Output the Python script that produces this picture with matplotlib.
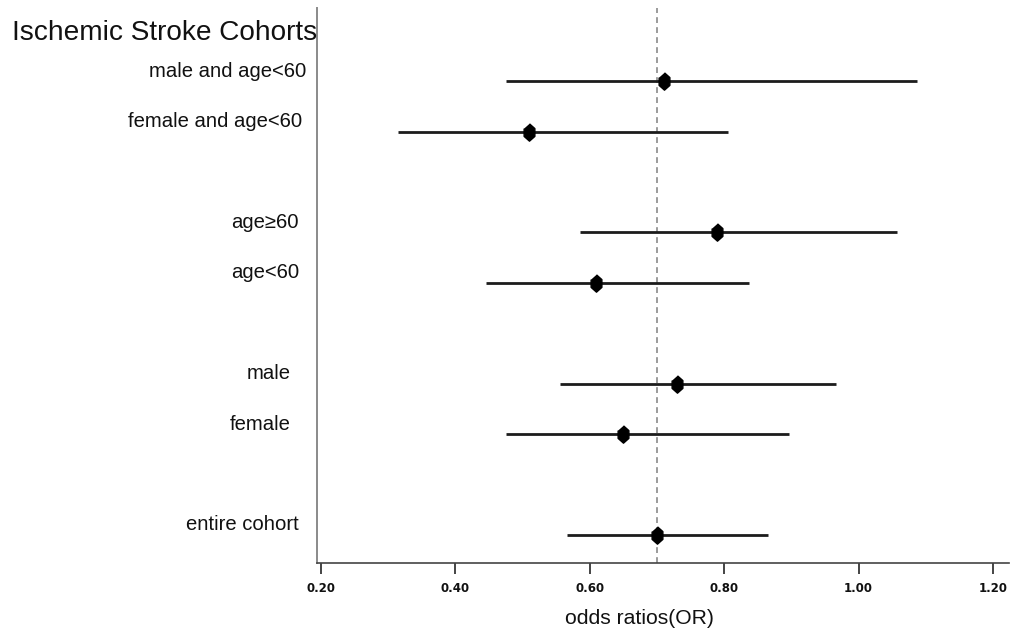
import matplotlib
matplotlib.use("Agg")
import matplotlib.pyplot as plt

# ---- data ----
cohorts = ["male and age<60", "female and age<60", "age\u226560", "age<60",
           "male", "female", "entire cohort"]
odds_ratio = [0.71, 0.51, 0.79, 0.61, 0.73, 0.65, 0.70]
ci_low = [0.475, 0.315, 0.586, 0.446, 0.556, 0.475, 0.566]
ci_high = [1.087, 0.806, 1.058, 0.837, 0.967, 0.897, 0.865]
ref_line = 0.70
xticks = [0.20, 0.40, 0.60, 0.80, 1.00, 1.20]
xtick_labels = ["0.20", "0.40", "0.60", "0.80", "1.00", "1.20"]
title = "Ischemic Stroke Cohorts"
xlabel = "odds ratios(OR)"

# ---- layout ----
W, H = 1010, 637
row_pos = [9, 8, 6, 5, 3, 2, 0]          # vertical slots (groups separated by gaps)
label_right_px = [306, 302, 299, 299, 291, 291, 299]

fig = plt.figure(figsize=(W / 100, H / 100), dpi=100)
ax = fig.add_axes([317 / W, 1 - 563 / H, (1009 - 317) / W, (563 - 8) / H])
ax.set_xlim(0.194, 1.224)
ax.set_ylim(-0.554, 10.45)

hexv = [(0, 1), (0.62, 0.45), (0.62, -0.45), (0, -1), (-0.62, -0.45), (-0.62, 0.45)]

ax.axvline(ref_line, color="#8a8a8a", lw=1.2, ls=(0, (3.5, 2.5)), zorder=1)

for y, m, lo, hi in zip(row_pos, odds_ratio, ci_low, ci_high):
    ax.hlines(y, lo, hi, color="#1c1c1c", lw=2.0, zorder=2)
    ax.plot([m], [y], marker=hexv, markersize=12.5, color="black",
            markeredgecolor="black", ls="none", zorder=3)

for name, y, rpx in zip(cohorts, row_pos, label_right_px):
    yd = ax.transData.transform((0, y + 0.2))[1]
    fig.text(rpx / W, yd / (H), name, ha="right", va="center",
             fontsize=14.6, family="Liberation Sans", color="#111111")

fig.text(12 / W, 1 - 33 / H, title, ha="left", va="center",
         fontsize=20.2, family="Liberation Sans", color="#111111")
fig.text(639 / W, 1 - 619 / H, xlabel, ha="center", va="center",
         fontsize=15.2, family="Liberation Sans", color="#111111")

ax.set_xticks(xticks)
ax.set_xticklabels(xtick_labels, fontsize=8.5, fontweight="bold",
                   family="DejaVu Sans", color="#111111")
ax.tick_params(axis="x", length=8, width=1.4, color="#444444", pad=6)
ax.set_yticks([])

for s in ["top", "right"]:
    ax.spines[s].set_visible(False)
ax.spines["left"].set_color("#8a8a8a")
ax.spines["left"].set_linewidth(1.4)
ax.spines["bottom"].set_color("#444444")
ax.spines["bottom"].set_linewidth(1.2)

fig.savefig("out.png", dpi=100, facecolor="white")
